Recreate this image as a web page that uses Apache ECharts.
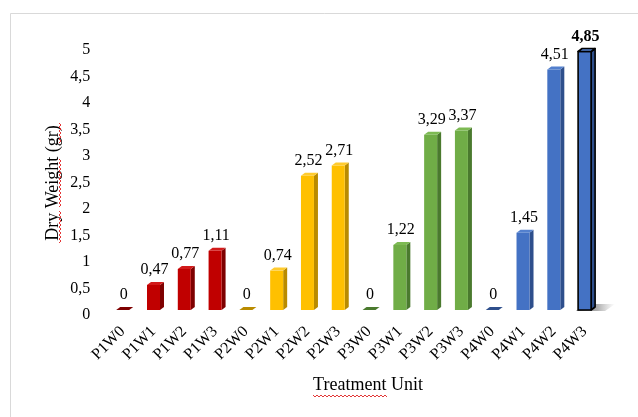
<!DOCTYPE html>
<html>
<head>
<meta charset="utf-8">
<script src="https://cdn.jsdelivr.net/npm/echarts@6/dist/echarts.min.js"></script>
<style>
  html, body { margin: 0; padding: 0; background: #ffffff; }
  #chart { width: 638px; height: 417px; }
</style>
</head>
<body>
<div id="chart"></div>
<script>
// Treatment units (P = treatment level, W = dose level)
const categories = ['P1W0', 'P1W1', 'P1W2', 'P1W3',
                    'P2W0', 'P2W1', 'P2W2', 'P2W3',
                    'P3W0', 'P3W1', 'P3W2', 'P3W3',
                    'P4W0', 'P4W1', 'P4W2', 'P4W3'];

// Dry weight per unit, in grams
const dryWeight = [0, 0.47, 0.77, 1.11,
                   0, 0.74, 2.52, 2.71,
                   0, 1.22, 3.29, 3.37,
                   0, 1.45, 4.51, 4.85];

// Treatment group of each unit (0 = P1 ... 3 = P4)
const groupOf = [0, 0, 0, 0, 1, 1, 1, 1, 2, 2, 2, 2, 3, 3, 3, 3];

// Value axis range and step
const yMin = 0;
const yMax = 5;
const yStep = 0.5;

// Best unit, outlined and labelled in bold
const bestIndex = dryWeight.indexOf(Math.max.apply(null, dryWeight));

// Front / side / top face colours for each treatment group
const palette = [
  { front: '#C00000', side: '#7E0000', top: '#D21A1A' },
  { front: '#FFC000', side: '#B98B00', top: '#FFCB2E' },
  { front: '#70AD47', side: '#4A7A2E', top: '#7DBA53' },
  { front: '#4472C4', side: '#2E4F8C', top: '#5380CE' }
];

const serif = '"Liberation Serif", "Times New Roman", serif';

function decimalComma(v) {
  return String(+v.toFixed(2)).replace('.', ',');
}

// Bar drawn as a small 3-D column: front face, right side face and top face
function renderColumn(params, api) {
  const idx = api.value(0);
  const v = api.value(1);
  const base = api.coord([idx, 0]);
  const top = api.coord([idx, v]);
  const w = 13, dx = 4, dy = 3;
  const x0 = base[0] - w / 2, x1 = base[0] + w / 2;
  const yb = base[1], yt = top[1];
  const c = palette[groupOf[idx]];
  const best = idx === bestIndex;
  const edge = best ? { stroke: '#000000', lineWidth: 1.6, lineJoin: 'round' } : {};
  const children = [];

  if (best) {
    // soft floor shadow cast to the right of the outlined column
    children.push({
      type: 'polygon',
      shape: { points: [[x0 - 2, yb + 1], [x0 + 6, yb - 6], [x1 + dx + 20, yb - 6], [x1 + 14, yb + 1]] },
      style: {
        fill: new echarts.graphic.LinearGradient(0, 0, 1, 0, [
          { offset: 0, color: 'rgba(50,50,50,0.75)' },
          { offset: 0.55, color: 'rgba(80,80,80,0.45)' },
          { offset: 1, color: 'rgba(120,120,120,0)' }
        ])
      }
    });
  }

  children.push({
    type: 'polygon',
    shape: { points: [[x1, yt], [x1 + dx, yt - dy], [x1 + dx, yb - dy], [x1, yb]] },
    style: Object.assign({ fill: c.side }, edge)
  });
  children.push({
    type: 'rect',
    shape: { x: x0, y: yt, width: w, height: yb - yt },
    style: Object.assign({ fill: c.front }, edge)
  });
  children.push({
    type: 'polygon',
    shape: { points: [[x0, yt], [x0 + dx, yt - dy], [x1 + dx, yt - dy], [x1, yt]] },
    style: Object.assign({ fill: v === 0 ? c.side : c.top }, edge)
  });
  children.push({
    type: 'text',
    style: {
      x: base[0] + 1,
      y: yt - dy - 4,
      text: decimalComma(v),
      align: 'center',
      verticalAlign: 'bottom',
      fill: '#000000',
      font: (best ? 'bold ' : '') + '16px ' + serif
    }
  });
  return { type: 'group', children: children };
}

// Wavy proofing underline, drawn along a straight segment
function squiggle(x0, y0, x1, y1) {
  const len = Math.hypot(x1 - x0, y1 - y0);
  const ux = (x1 - x0) / len, uy = (y1 - y0) / len;
  const nx = -uy, ny = ux;
  const pts = [];
  const step = 2;
  for (let s = 0, k = 0; s <= len; s += step, k++) {
    const a = (k % 2 === 0) ? -1 : 1;
    pts.push([x0 + ux * s + nx * a, y0 + uy * s + ny * a]);
  }
  return {
    type: 'polyline',
    shape: { points: pts },
    style: { stroke: '#E02020', lineWidth: 0.9, fill: null },
    silent: true
  };
}

const chart = echarts.init(document.getElementById('chart'), null, { renderer: 'canvas' });

chart.setOption({
  backgroundColor: '#ffffff',
  animation: false,
  grid: [
    // plot area of the columns
    { left: 107.3, right: 38, top: 43.5, bottom: 107 },
    // tick scale, drawn on the receding floor line a few pixels lower
    { left: 107.3, right: 38, top: 50, bottom: 102 }
  ],
  xAxis: [
    {
      type: 'category',
      gridIndex: 0,
      data: categories,
      axisLine: { show: false },
      axisTick: { show: false },
      axisLabel: {
        rotate: 45,
        margin: 19,
        interval: 0,
        color: '#000000',
        fontFamily: serif,
        fontSize: 16
      }
    },
    { type: 'category', gridIndex: 1, data: categories, show: false }
  ],
  yAxis: [
    {
      type: 'value',
      gridIndex: 0,
      min: yMin,
      max: yMax,
      interval: yStep,
      axisLine: { show: false },
      axisTick: { show: false },
      splitLine: { show: false },
      axisLabel: { show: false }
    },
    {
      type: 'value',
      gridIndex: 1,
      min: yMin,
      max: yMax,
      interval: yStep,
      axisLine: { show: false },
      axisTick: { show: false },
      splitLine: { show: false },
      axisLabel: {
        margin: 17,
        color: '#000000',
        fontFamily: serif,
        fontSize: 16,
        formatter: decimalComma
      }
    }
  ],
  series: [{
    type: 'custom',
    xAxisIndex: 0,
    yAxisIndex: 0,
    renderItem: renderColumn,
    data: dryWeight.map(function (v, i) { return [i, v]; }),
    encode: { x: 0, y: 1 },
    clip: false
  }],
  graphic: [
    {
      type: 'rect',
      shape: { x: 10.5, y: 13.5, width: 700, height: 500 },
      style: { fill: null, stroke: '#D9D9D9', lineWidth: 1 },
      silent: true
    },
    {
      type: 'text',
      x: 53, y: 183,
      rotation: Math.PI / 2,
      style: {
        text: 'Dry Weight (gr)',
        align: 'center',
        verticalAlign: 'middle',
        fill: '#000000',
        font: '18px ' + serif
      }
    },
    {
      type: 'text',
      x: 368, y: 385,
      style: {
        text: 'Treatment Unit',
        align: 'center',
        verticalAlign: 'middle',
        fill: '#000000',
        font: '18px ' + serif
      }
    },
    squiggle(60, 243, 60, 210),
    squiggle(60, 207, 60, 158),
    squiggle(60, 143, 60, 123),
    squiggle(313, 396, 387, 396)
  ]
});
</script>
</body>
</html>
